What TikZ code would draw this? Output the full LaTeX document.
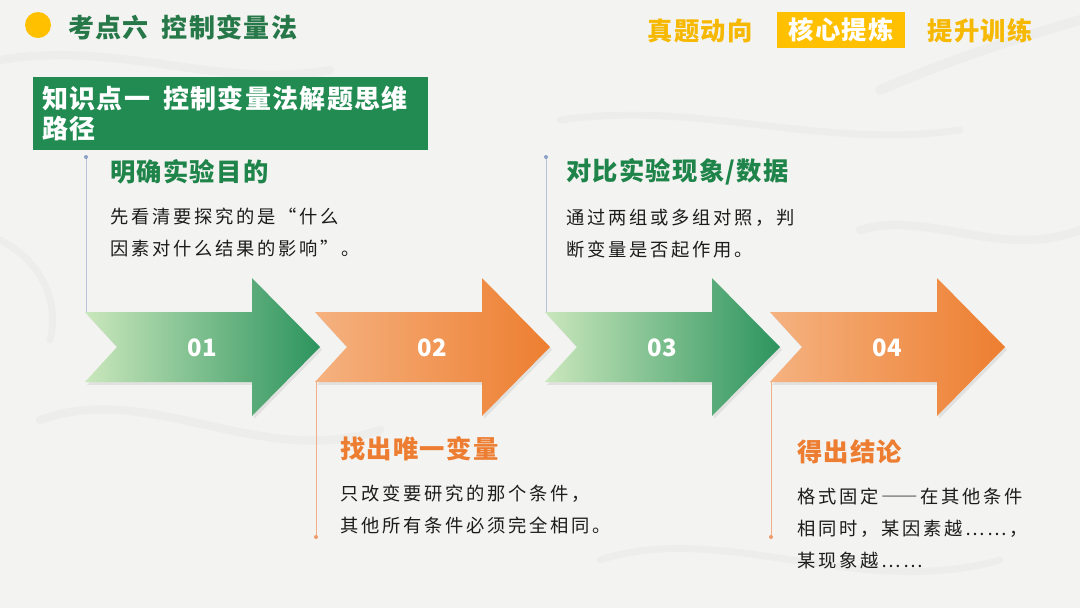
\documentclass[tikz,border=0pt]{standalone}
\usepackage{fontspec}
\setmainfont{Noto Sans CJK SC}
\newfontfamily\headfont[LetterSpace=5]{Noto Sans CJK SC}
\newfontfamily\bodyfont[LetterSpace=15,RawFeature=+fwid]{Noto Sans CJK SC}
\usetikzlibrary{positioning,shadows}
\definecolor{paper}{RGB}{243,243,241}
\definecolor{streak}{RGB}{200,200,198}
\definecolor{ink}{RGB}{28,28,28}
\definecolor{titlegreen}{RGB}{38,120,72}
\definecolor{leafgreen}{RGB}{33,139,82}
\definecolor{headgreen}{RGB}{30,132,73}
\definecolor{tangerine}{RGB}{237,125,49}
\definecolor{amber}{RGB}{255,192,0}
\definecolor{tabtext}{RGB}{246,184,0}
\definecolor{greenL}{RGB}{202,231,188}
\definecolor{greenD}{RGB}{44,148,94}
\definecolor{orangeL}{RGB}{245,178,128}
\definecolor{orangeD}{RGB}{237,126,48}
\definecolor{topline}{RGB}{185,195,215}
\definecolor{topdot}{RGB}{140,160,200}
\definecolor{botline}{RGB}{242,175,135}
\definecolor{botdot}{RGB}{240,155,105}

\begin{document}
\begin{tikzpicture}[
  x=0.025cm,y=-0.025cm,
  title/.style={font=\headfont\fontsize{18.5}{20}\selectfont\bfseries,text=titlegreen,anchor=west,inner sep=0},
  tab/.style={font=\headfont\fontsize{18}{20}\selectfont\bfseries,text=tabtext,inner sep=0},
  tabon/.style={tab,fill=amber,text=white,minimum width=3.2cm,minimum height=0.9cm},
  banner/.style={fill=leafgreen,text=white,font=\headfont\fontsize{18.5}{21.3}\selectfont\bfseries,align=left,anchor=north west,
    text width=9.425cm,inner xsep=0.225cm,inner ysep=0pt,minimum height=1.825cm},
  stephead/.style={font=\headfont\fontsize{18}{20}\selectfont\bfseries,anchor=west,inner sep=0},
  stepbody/.style={font=\bodyfont\fontsize{13}{22.7}\selectfont,text=ink,align=left,inner sep=0},
  arrowfill/.style={left color=#1L,right color=#1D,draw=none,
    drop shadow={opacity=0.15,shadow xshift=1.5pt,shadow yshift=-2pt}},
  num/.style={text=white,font=\fontsize{17}{20}\selectfont\bfseries,inner sep=0},
  guide/.style={line width=0.6pt},
  marble/.style={streak,line cap=round,opacity=0.12}
]
\fill[paper] (0,0) rectangle (1080,608);
\useasboundingbox (0,0) rectangle (1080,608);

% faint marble texture
\draw[marble,line width=6pt] (0,60) .. controls (120,40) and (220,90) .. (330,70);
\draw[marble,line width=5pt] (560,120) .. controls (700,100) and (820,150) .. (960,130);
\draw[marble,line width=7pt] (880,90) .. controls (950,60) and (1010,40) .. (1080,20);
\draw[marble,line width=6pt] (40,420) .. controls (150,380) and (260,470) .. (380,430);
\draw[marble,line width=5pt] (600,560) .. controls (720,520) and (860,600) .. (1000,560);
\draw[marble,line width=6pt] (860,230) .. controls (930,210) and (1000,260) .. (1080,230);
\draw[marble,line width=5pt] (0,240) .. controls (40,260) and (60,300) .. (50,340);

% header
\fill[amber] (38,25) circle (13);
\node[title] (kd) at (68,27) {考点六\hspace{0.5em}控制变量法};
\node[tab] (zt) at (700,31) {真题动向};
\node[tabon] (hx) at (841,30) {核心提炼};
\node[tab] (ts) at (980,31) {提升训练};
\node[banner] (kp) at (33,77) {知识点一\hspace{0.5em}控制变量法解题思维\\路径};

% arrows
\foreach \i/\x/\c in {1/85/green,2/315/orange,3/545/green,4/770/orange}{
  \path[arrowfill=\c] (\x,312) -- ++(167,0) -- ++(0,-34) -- ++(68,69) -- ++(-68,69)
    -- ++(0,-34) -- ++(-167,0) -- ++(32,-35) -- cycle;
  \node[num] (n\i) at (\x+117,348) {0\i};
  \coordinate (top\i) at (\x+1,312);
  \coordinate (bot\i) at (\x+1,382);
}

% steps 1 and 3
\node[stephead,text=headgreen] (h1) at (110,172) {明确实验目的};
\node[stepbody,below right=0.58cm and 0cm of h1.south west] (b1) {先看清要探究的是“什么\\因素对什么结果的影响”。};
\node[stephead,text=headgreen] (h3) at (566,172) {对比实验现象/数据};
\node[stepbody,below right=0.58cm and 0cm of h3.south west] (b3) {通过两组或多组对照，判\\断变量是否起作用。};
\coordinate (d1) at (86,157);
\coordinate (d3) at (546,157);
\draw[guide,topline] (d1) -- (top1);
\draw[guide,topline] (d3) -- (top3);
\fill[topdot] (d1) circle (2);
\fill[topdot] (d3) circle (2);

% steps 2 and 4
\node[stephead,text=tangerine] (h2) at (340,449) {找出唯一变量};
\node[stepbody,below right=0.58cm and 0cm of h2.south west] (b2) {只改变要研究的那个条件，\\其他所有条件必须完全相同。};
\node[stephead,text=tangerine] (h4) at (797,452) {得出结论};
\node[stepbody,below right=0.58cm and 0cm of h4.south west] (b4) {格式固定——在其他条件\\相同时，某因素越……，\\某现象越……};
\coordinate (d2) at (316,537);
\coordinate (d4) at (771,537);
\draw[guide,botline] (bot2) -- (d2);
\draw[guide,botline] (bot4) -- (d4);
\fill[botdot] (d2) circle (2);
\fill[botdot] (d4) circle (2);
\end{tikzpicture}
\end{document}
